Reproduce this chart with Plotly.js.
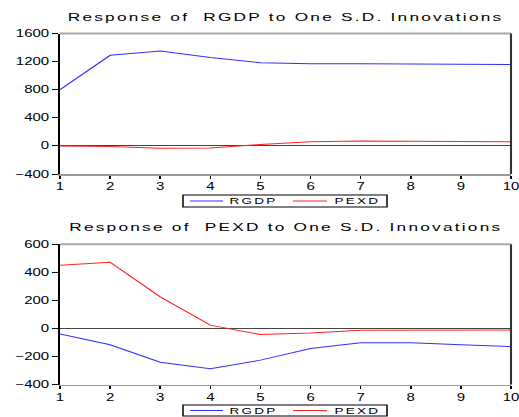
<!DOCTYPE html>
<html>
<head>
<meta charset="utf-8">
<script src="https://cdn.plot.ly/plotly-3.0.1.min.js"></script>
<style>
html,body{margin:0;padding:0;background:#fff;overflow:hidden;}
#wrap{width:519px;height:417px;overflow:hidden;}
#chart{width:346px;height:417px;transform:scaleX(1.5);transform-origin:0 0;}
.annotation-text{letter-spacing:1.5px;}
</style>
</head>
<body>
<div id="wrap"><div id="chart"></div></div>
<script>
// Periods
const periods = [1, 2, 3, 4, 5, 6, 7, 8, 9, 10];

// Response of RGDP
const rgdpToRgdp = [800, 1290, 1350, 1260, 1185, 1170, 1170, 1170, 1165, 1160];
const rgdpToPexd = [0, -10, -35, -30, 20, 60, 70, 70, 60, 60];

// Response of PEXD
const pexdToRgdp = [-38, -116, -240, -287, -225, -142, -102, -102, -116, -128];
const pexdToPexd = [450, 472, 225, 24, -43, -31, -12, -10, -10, -10];

const seriesNames = ["RGDP", "PEXD"];
const topTitle = "Response of\u00a0 RGDP to One S.D. Innovations";
const bottomTitle = "Response of\u00a0 PEXD to One S.D. Innovations";

const topTicks = [-400, 0, 400, 800, 1200, 1600];
const bottomTicks = [-400, -200, 0, 200, 400, 600];

const FONT = "Liberation Sans, Arial, sans-serif";
const BLUE = "#3030ff";
const RED = "#ff2020";
const COLORS = [BLUE, RED];

const traces = [
  {x: periods, y: rgdpToRgdp, name: seriesNames[0], type: "scatter", mode: "lines",
   line: {color: BLUE, width: 1}, xaxis: "x", yaxis: "y"},
  {x: periods, y: rgdpToPexd, name: seriesNames[1], type: "scatter", mode: "lines",
   line: {color: RED, width: 1}, xaxis: "x", yaxis: "y"},
  {x: periods, y: pexdToRgdp, name: seriesNames[0], type: "scatter", mode: "lines",
   line: {color: BLUE, width: 1}, xaxis: "x2", yaxis: "y2"},
  {x: periods, y: pexdToPexd, name: seriesNames[1], type: "scatter", mode: "lines",
   line: {color: RED, width: 1}, xaxis: "x2", yaxis: "y2"}
];

const W = 519, H = 417, SX = 1.5;
const px = v => v / W;          // horizontal pixel -> paper fraction
const py = v => 1 - v / H;      // vertical pixel -> paper fraction
const xDom = [px(60), px(511)];
const yDomTop = [py(174), py(33.5)];
const yDomBot = [py(384.7), py(244.3)];

function xAxis(anchor, dom) {
  return {
    domain: dom, anchor: anchor, range: [1, 10], tickmode: "array", tickvals: periods,
    ticks: "outside", ticklen: 3, tickwidth: 1, tickcolor: "#000",
    showline: true, linecolor: "#9a9a9a", linewidth: 1.5,
    showgrid: false, zeroline: false, fixedrange: true, ticklabeloverflow: "allow",
    tickfont: {family: FONT, size: 10, color: "#000"}
  };
}
function yAxis(anchor, dom, range, ticks) {
  return {
    domain: dom, anchor: anchor, range: range, tickmode: "array", tickvals: ticks,
    ticks: "outside", ticklen: 4, tickwidth: 1, tickcolor: "#000",
    showline: true, linecolor: "#000", linewidth: 1.2,
    showgrid: false, zeroline: true, zerolinecolor: "#444", zerolinewidth: 1,
    fixedrange: true,
    tickfont: {family: FONT, size: 10, color: "#000"}
  };
}

function frame(xref, yref) {
  return [
    {type: "line", xref: xref + " domain", yref: yref + " domain", x0: 0, x1: 1, y0: 1, y1: 1,
     line: {color: "#a8a8a8", width: 2}},
    {type: "line", xref: xref + " domain", yref: yref + " domain", x0: 1, x1: 1, y0: 0, y1: 1,
     line: {color: "#333333", width: 1.4}}
  ];
}

// Legend box drawn under each panel (box top/bottom in pixels)
function legendParts(top, bottom) {
  const mid = (top + bottom) / 2;
  const shapes = [
    {type: "rect", xref: "paper", yref: "paper", x0: px(183), x1: px(387), y0: py(bottom), y1: py(top),
     line: {color: "#000", width: 1}, fillcolor: "#fff"},
    {type: "line", xref: "paper", yref: "paper", x0: px(190), x1: px(223), y0: py(mid), y1: py(mid),
     line: {color: COLORS[0], width: 1}},
    {type: "line", xref: "paper", yref: "paper", x0: px(293), x1: px(327), y0: py(mid), y1: py(mid),
     line: {color: COLORS[1], width: 1}}
  ];
  const annotations = [
    {text: seriesNames[0], xref: "paper", yref: "paper", x: px(228), y: py(mid),
     xanchor: "left", yanchor: "middle", showarrow: false, borderpad: 0,
     font: {family: FONT, size: 9, color: "#000"}},
    {text: seriesNames[1], xref: "paper", yref: "paper", x: px(333), y: py(mid),
     xanchor: "left", yanchor: "middle", showarrow: false, borderpad: 0,
     font: {family: FONT, size: 9, color: "#000"}}
  ];
  return {shapes, annotations};
}

const legTop = legendParts(195, 207);
const legBot = legendParts(405, 416);

const layout = {
  width: W / SX, height: H,
  margin: {l: 0, r: 0, t: 0, b: 0},
  paper_bgcolor: "#fff", plot_bgcolor: "#fff",
  showlegend: false,
  xaxis: xAxis("y", xDom),
  yaxis: yAxis("x", yDomTop, [-400, 1600], topTicks),
  xaxis2: xAxis("y2", xDom),
  yaxis2: yAxis("x2", yDomBot, [-400, 600], bottomTicks),
  shapes: frame("x", "y").concat(frame("x2", "y2"), legTop.shapes, legBot.shapes),
  annotations: [
    {text: topTitle, xref: "paper", yref: "paper", x: px(285), y: py(17),
     xanchor: "center", yanchor: "middle", showarrow: false,
     font: {family: FONT, size: 11.5, color: "#000"}},
    {text: bottomTitle, xref: "paper", yref: "paper", x: px(285), y: py(227),
     xanchor: "center", yanchor: "middle", showarrow: false,
     font: {family: FONT, size: 11.5, color: "#000"}}
  ].concat(legTop.annotations, legBot.annotations)
};

Plotly.newPlot("chart", traces, layout, {displayModeBar: false, staticPlot: true});
</script>
</body>
</html>
